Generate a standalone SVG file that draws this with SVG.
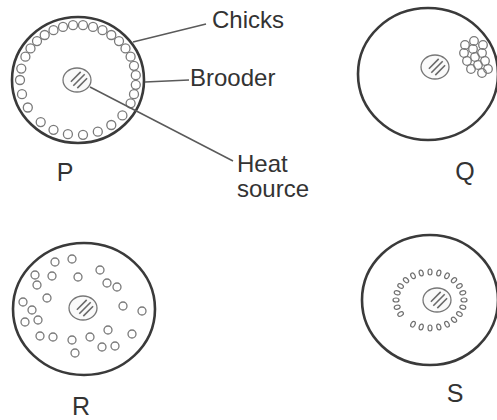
<svg xmlns="http://www.w3.org/2000/svg" xmlns:xlink="http://www.w3.org/1999/xlink" width="497" height="420" viewBox="0 0 497 420">
<style>
.brooder{fill:none;stroke:#3a3a3a;stroke-width:2.6}
.chick{fill:none;stroke:#7a7a7a;stroke-width:1.3}
.dot{fill:none;stroke:#707070;stroke-width:1.2}
.lead{fill:none;stroke:#5a5a5a;stroke-width:1.5}
.lbl{font-family:"Liberation Sans",Arial,sans-serif;font-size:24px;fill:#333}
.big{font-family:"Liberation Sans",Arial,sans-serif;font-size:25px;fill:#333;text-anchor:middle}
</style>
<defs>
<g id="heat">
<ellipse cx="0" cy="0" rx="14" ry="12" fill="#fafafa" stroke="#777" stroke-width="1.3"/>
<path d="M-6.1,1.7 L3.7,-8.1 M-3.7,5.7 L7.7,-5.7 M0.3,8.1 L10.1,-1.7" stroke="#6a6a6a" stroke-width="1.6" fill="none"/>
</g>
</defs>
<rect width="497" height="420" fill="#ffffff"/>

<g id="P">
<ellipse class="brooder" cx="78" cy="80" rx="66" ry="63" stroke-width="3"/>
<use xlink:href="#heat" x="77" y="80"/>
<g class="chick">
<circle cx="25.4" cy="56.7" r="4.5"/><circle cx="30.5" cy="48.4" r="4.5"/><circle cx="37" cy="41.1" r="4.5"/><circle cx="44.7" cy="35" r="4.5"/><circle cx="53.5" cy="30.2" r="4.5"/><circle cx="63" cy="26.9" r="4.5"/><circle cx="73" cy="25.2" r="4.5"/><circle cx="83" cy="25.2" r="4.5"/><circle cx="93" cy="26.9" r="4.5"/><circle cx="102.5" cy="30.2" r="4.5"/><circle cx="111.3" cy="35" r="4.5"/><circle cx="119" cy="41.1" r="4.5"/><circle cx="125.5" cy="48.4" r="4.5"/><circle cx="130.6" cy="56.7" r="4.5"/><circle cx="134" cy="65.8" r="4.5"/><circle cx="135.8" cy="75.2" r="4.5"/><circle cx="135.8" cy="84.8" r="4.5"/><circle cx="134" cy="94.2" r="4.5"/><circle cx="130.6" cy="103.3" r="4.5"/><circle cx="122.4" cy="115.4" r="4.5"/><circle cx="111.3" cy="125" r="4.5"/><circle cx="97.8" cy="131.7" r="4.5"/><circle cx="83" cy="134.8" r="4.5"/><circle cx="67.9" cy="134.2" r="4.5"/><circle cx="53.5" cy="129.8" r="4.5"/><circle cx="40.7" cy="122.1" r="4.5"/><circle cx="27.8" cy="107.5" r="4.5"/><circle cx="22" cy="94.2" r="4.5"/><circle cx="20" cy="80" r="4.5"/><circle cx="21.3" cy="68.6" r="4.5"/>
</g>
<text class="big" x="65" y="181">P</text>
</g>

<g id="Q">
<ellipse class="brooder" cx="428" cy="74" rx="70" ry="66"/>
<use xlink:href="#heat" x="435" y="67"/>
<g class="chick">
<circle cx="465" cy="45" r="4.3"/><circle cx="464" cy="53" r="4.3"/><circle cx="467" cy="61" r="4.3"/><circle cx="471" cy="69" r="4.3"/>
<circle cx="474" cy="41" r="4.3"/><circle cx="473" cy="49" r="4.3"/><circle cx="475" cy="57" r="4.3"/><circle cx="478" cy="65" r="4.3"/><circle cx="482" cy="73" r="4.3"/>
<circle cx="483" cy="45" r="4.3"/><circle cx="482" cy="53" r="4.3"/><circle cx="485" cy="61" r="4.3"/><circle cx="488" cy="69" r="4.3"/>
</g>
<text class="big" x="465" y="180">Q</text>
</g>

<g id="R">
<ellipse class="brooder" cx="84" cy="309" rx="71" ry="66"/>
<use xlink:href="#heat" x="83" y="308"/>
<g class="chick">
<circle cx="55" cy="262" r="4"/><circle cx="72" cy="259" r="4"/><circle cx="35" cy="275" r="4"/><circle cx="52" cy="276" r="4"/><circle cx="78" cy="277" r="4"/><circle cx="100" cy="270" r="4"/><circle cx="107" cy="283" r="4"/><circle cx="117" cy="287" r="4"/><circle cx="37" cy="285" r="4"/><circle cx="47" cy="298" r="4"/><circle cx="23" cy="302" r="4"/><circle cx="32" cy="310" r="4"/><circle cx="123" cy="306" r="4"/><circle cx="142" cy="311" r="4"/><circle cx="25" cy="322" r="4"/><circle cx="38" cy="320" r="4"/><circle cx="108" cy="330" r="4"/><circle cx="132" cy="334" r="4"/><circle cx="40" cy="336" r="4"/><circle cx="53" cy="337" r="4"/><circle cx="72" cy="340" r="4"/><circle cx="90" cy="337" r="4"/><circle cx="102" cy="347" r="4"/><circle cx="115" cy="346" r="4"/><circle cx="75" cy="353" r="4"/>
</g>
<text class="big" x="81" y="415">R</text>
</g>

<g id="S">
<ellipse class="brooder" cx="430" cy="300" rx="68" ry="65"/>
<use xlink:href="#heat" x="437" y="300"/>
<g class="dot">
<ellipse cx="464" cy="300" rx="3" ry="2" transform="rotate(0 464 300)"/>
<ellipse cx="462.8" cy="307.2" rx="3" ry="2" transform="rotate(15 462.8 307.2)"/>
<ellipse cx="459.4" cy="314" rx="3" ry="2" transform="rotate(30 459.4 314)"/>
<ellipse cx="454" cy="319.8" rx="3" ry="2" transform="rotate(45 454 319.8)"/>
<ellipse cx="447" cy="324.2" rx="3" ry="2" transform="rotate(60 447 324.2)"/>
<ellipse cx="438.8" cy="327" rx="3" ry="2" transform="rotate(75 438.8 327)"/>
<ellipse cx="430" cy="328" rx="3" ry="2" transform="rotate(90 430 328)"/>
<ellipse cx="421.2" cy="327" rx="3" ry="2" transform="rotate(105 421.2 327)"/>
<ellipse cx="413" cy="324.2" rx="3" ry="2" transform="rotate(120 413 324.2)"/>
<ellipse cx="400.6" cy="314" rx="3" ry="2" transform="rotate(150 400.6 314)"/>
<ellipse cx="397.2" cy="307.2" rx="3" ry="2" transform="rotate(165 397.2 307.2)"/>
<ellipse cx="396" cy="300" rx="3" ry="2" transform="rotate(180 396 300)"/>
<ellipse cx="397.2" cy="292.8" rx="3" ry="2" transform="rotate(195 397.2 292.8)"/>
<ellipse cx="400.6" cy="286" rx="3" ry="2" transform="rotate(210 400.6 286)"/>
<ellipse cx="406" cy="280.2" rx="3" ry="2" transform="rotate(225 406 280.2)"/>
<ellipse cx="413" cy="275.8" rx="3" ry="2" transform="rotate(240 413 275.8)"/>
<ellipse cx="421.2" cy="273" rx="3" ry="2" transform="rotate(255 421.2 273)"/>
<ellipse cx="430" cy="272" rx="3" ry="2" transform="rotate(270 430 272)"/>
<ellipse cx="438.8" cy="273" rx="3" ry="2" transform="rotate(285 438.8 273)"/>
<ellipse cx="447" cy="275.8" rx="3" ry="2" transform="rotate(300 447 275.8)"/>
<ellipse cx="454" cy="280.2" rx="3" ry="2" transform="rotate(315 454 280.2)"/>
<ellipse cx="459.4" cy="286" rx="3" ry="2" transform="rotate(330 459.4 286)"/>
<ellipse cx="462.8" cy="292.8" rx="3" ry="2" transform="rotate(345 462.8 292.8)"/>
</g>
<text class="big" x="455" y="402">S</text>
</g>

<g id="connectors">
<line class="lead" x1="133" y1="42" x2="206" y2="24"/>
<line class="lead" x1="145" y1="82" x2="189" y2="80"/>
<line class="lead" x1="90" y1="87" x2="233" y2="161"/>
</g>

<g id="labels">
<text class="lbl" x="212" y="28">Chicks</text>
<text class="lbl" x="190" y="86">Brooder</text>
<text class="lbl" x="237" y="172">Heat</text>
<text class="lbl" x="237" y="197">source</text>
</g>
</svg>
